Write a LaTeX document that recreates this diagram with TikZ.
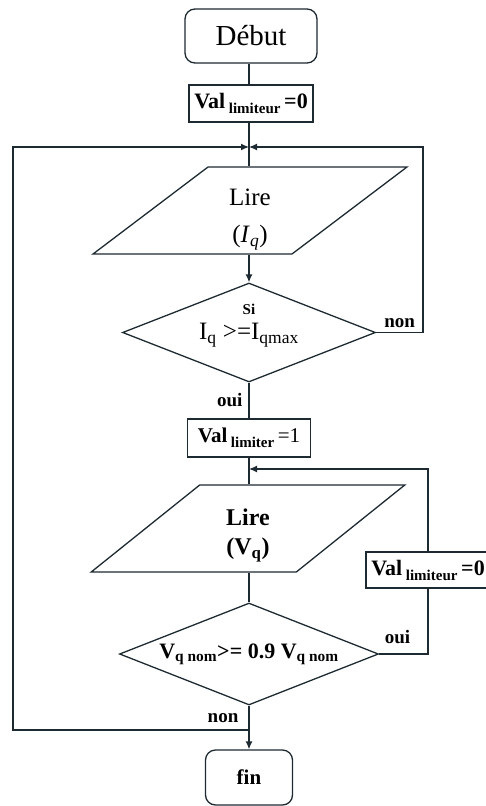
\documentclass[tikz,border=0pt]{standalone}
\usepackage{fontspec}
\setmainfont{Liberation Serif}
\usepackage{tikz}
\usetikzlibrary{positioning,arrows.meta,shapes.geometric}
\definecolor{flowline}{HTML}{1E2A31}
\newcommand{\valsub}[1]{\,\raisebox{-5pt}{\fontsize{15}{15}\selectfont\bfseries #1}\,}
\newcommand{\fsz}[1]{\fontsize{#1}{#1}\selectfont}

\begin{document}
\begin{tikzpicture}[
    x=1pt, y=-1pt,
    every node/.style={align=center, text=black, inner sep=2pt},
    line/.style={draw=flowline, line width=1.3pt},
    flow/.style={line, -{Latex[length=8pt,width=7pt]}},
    term/.style={line, rounded corners=10pt, font=\fsz{21}\bfseries},
    setbox/.style={line, minimum width=124, minimum height=37, font=\fsz{22}},
    readbox/.style={
      line, trapezium, trapezium left angle=54, trapezium right angle=126,
      trapezium stretches=true, minimum width=314, minimum height=87, inner sep=0pt
    },
    test/.style={line, diamond, aspect=2.55, inner sep=0pt},
    tag/.style={font=\fsz{19}\bfseries}
  ]

  \useasboundingbox (0,0) rectangle (486,806);

  % --- debut et initialisation ------------------------------------------
  \node[term, minimum width=132, minimum height=54, font=\fsz{29}] (debut) at (251,36) {Début};
  \node[setbox] (val0) at (251,103.5) {\textbf{Val}\valsub{limiteur}\textbf{=0}};

  % --- premiere boucle : lecture de I_q -----------------------------------
  \node[readbox, font=\fsz{25}] (lire1) at (250,210.5)
    {\rule{0pt}{34pt}Lire\\[12pt](\textit{I}\textsubscript{\textit{q}})};
  \node[test, minimum width=253, minimum height=99,
    label={[yshift=7pt]center:{{\fsz{15}\bfseries Si}\\[8pt]{\fsz{25}I\textsubscript{q} >=I\textsubscript{qmax}}}}]
    (dec1) at (249,332.5) {};
  \node[setbox, minimum width=123, minimum height=38, font=\fsz{21}] (val1) at (249,438) {\textbf{Val}\valsub{limiter}=1};

  % --- seconde boucle : lecture de V_q ------------------------------------
  \node[readbox, font=\fsz{24}\bfseries] (lire2) at (248,528.5)
    {\rule{0pt}{31pt}Lire\\[5pt](V\textsubscript{q})};
  \node[setbox, minimum height=36] (val2) at (428,570) {\textbf{Val}\valsub{limiteur}\textbf{=0}};
  \node[test, minimum width=259, minimum height=102, font=\fsz{22}\bfseries] (dec2) at (249,654)
    {V\textsubscript{q nom}>= 0.9 V\textsubscript{q nom}};
  \node[term, minimum width=87, minimum height=55] (fin) at (249,777.5) {fin};

  % --- points de jonction -------------------------------------------------
  \coordinate (j1) at (249,147);
  \coordinate (j2) at (249,469);
  \coordinate (rr1) at (423,147);
  \coordinate (ll) at (13,730);

  % --- connecteurs --------------------------------------------------------
  \draw[line] (debut.south -| j1) -- (val0.north -| j1);
  \draw[line] (val0.south -| j1) -- (lire1.north -| j1);
  \draw[flow] (lire1.south -| dec1) -- (dec1.north);
  \draw[line] (dec1.south) -- node[tag, left=4pt] {oui} (val1.north);
  \draw[line] (val1) -- (lire2.north -| val1);
  \draw[line] (lire2.south -| dec2) -- (dec2.north);
  \draw[line] (dec2.south) -- node[tag, left=8pt] {non} (ll -| fin.north);
  \draw[flow] (ll -| fin.north) -- (fin.north);

  \draw[flow] (dec1.east) -- node[tag, above=2pt] {non} (dec1.east -| rr1) -- (rr1) -- (j1);
  \draw[flow] (ll -| fin.north) -- (ll) |- (j1);
  \draw[line] (dec2.east) -- node[tag, above=8pt, xshift=-6pt] {oui} (dec2.east -| val2) -- (val2.south);
  \draw[flow] (val2.north) |- (j2);

\end{tikzpicture}
\end{document}
